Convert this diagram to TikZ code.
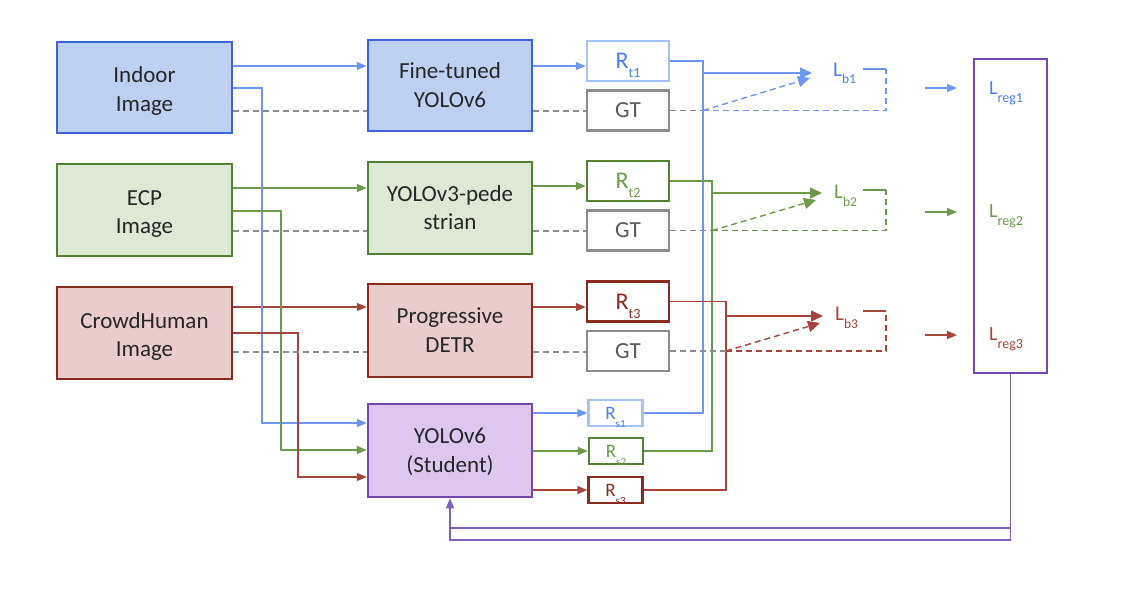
\documentclass[tikz,border=0pt]{standalone}
\usepackage{fontspec}
\setmainfont{Carlito}
\usetikzlibrary{arrows.meta}
\definecolor{bBd}{HTML}{3C64D8}
\definecolor{bFill}{HTML}{BED0F2}
\definecolor{bLn}{HTML}{6E96F0}
\definecolor{bLt}{HTML}{A4C2F4}
\definecolor{bTx}{HTML}{4A7FE8}
\definecolor{gBd}{HTML}{548235}
\definecolor{gFill}{HTML}{DDE8D5}
\definecolor{gLn}{HTML}{6A9A4A}
\definecolor{rBd}{HTML}{8B2A1E}
\definecolor{rFill}{HTML}{E8CDCC}
\definecolor{rLn}{HTML}{A4443A}
\definecolor{pBd}{HTML}{7448B0}
\definecolor{pFill}{HTML}{DCC8EE}
\definecolor{pLn}{HTML}{8060C0}
\definecolor{gry}{HTML}{8C8C8C}
\definecolor{gTx}{HTML}{595959}
% #1 main size, #2 main text, #3 sub size, #4 drop, #5 sub text
\newcommand\mylab[5]{{\fontsize{#1}{#1}\selectfont #2}\smash{\raisebox{#4}{\fontsize{#3}{#3}\selectfont #5}}}
\begin{document}
\begin{tikzpicture}[x=1pt,y=-1pt,font=\fontsize{23}{28.5}\selectfont,
  bigbox/.style={draw,line width=2.5pt,align=center,inner sep=0pt,text=black!85,minimum width=175pt,text height=50pt,text depth=3pt},
  modbox/.style={draw,line width=2.5pt,align=center,inner sep=0pt,text=black!85,minimum width=164pt,text height=46pt,text depth=3pt},
  rbox/.style={draw,line width=2.5pt,inner sep=0pt,minimum width=82pt,minimum height=40pt,fill=white},
  sbox/.style={draw,line width=2.3pt,inner sep=0pt,minimum width=54pt,minimum height=26pt,fill=white},
  ln/.style={line width=1.4pt},
  arr/.style={-{Triangle[length=10pt,width=8pt]}},
  barr/.style={-{Triangle[length=12pt,width=11pt]}},
  dsh/.style={dash pattern=on 6pt off 4pt},
  lab/.style={anchor=base west,inner sep=0pt}]
\useasboundingbox (0,0) rectangle (1148,594);

% input boxes
\node[bigbox,fill=bFill,draw=bBd,minimum height=91pt] (indoor) at (144.5,87.5) {Indoor\\Image};
\node[bigbox,fill=gFill,draw=gBd,minimum height=92pt] (ecp) at (144.5,210) {ECP\\Image};
\node[bigbox,fill=rFill,draw=rBd,minimum height=92pt] (crowd) at (144.5,333) {CrowdHuman\\Image};

% model boxes
\node[modbox,fill=bFill,draw=bBd,minimum height=91pt] (ft) at (450,85.5) {Fine-tuned\\YOLOv6};
\node[modbox,fill=gFill,draw=gBd,minimum height=92pt] (y3) at (450,208) {YOLOv3-pede\\strian};
\node[modbox,fill=rFill,draw=rBd,minimum height=93pt] (pd) at (450,330.5) {Progressive\\DETR};
\node[modbox,fill=pFill,draw=pBd,minimum height=93pt] (stu) at (450,450.5) {YOLOv6\\(Student)};

% teacher result boxes
\node[rbox,draw=bLt,text=bTx] (rt1) at (628,61) {\mylab{24}{R}{14}{-9pt}{t1}};
\node[rbox,draw=gBd,text=gLn] (rt2) at (628,181) {\mylab{24}{R}{14}{-9pt}{t2}};
\node[rbox,draw=rBd,text=rBd] (rt3) at (628,301.5) {\mylab{24}{R}{14}{-9pt}{t3}};
\node[rbox,draw=gry,text=gTx] (gt1) at (628,110.5) {\fontsize{23}{23}\selectfont GT};
\node[rbox,draw=gry,text=gTx] (gt2) at (628,230.5) {\fontsize{23}{23}\selectfont GT};
\node[rbox,draw=gry,text=gTx] (gt3) at (628,351) {\fontsize{23}{23}\selectfont GT};

% student result boxes
\node[sbox,draw=bLt,text=bTx] (rs1) at (615.5,413) {\mylab{19}{R}{11}{-8pt}{s1}};
\node[sbox,draw=gBd,text=gLn] (rs2) at (616,451) {\mylab{19}{R}{11}{-8pt}{s2}};
\node[sbox,draw=rBd,text=rBd] (rs3) at (615.5,490) {\mylab{19}{R}{11}{-8pt}{s3}};

% loss labels
\node[lab,text=bTx] (lb1) at (833,76) {\mylab{21}{L}{13.5}{-8pt}{b1}};
\node[lab,text=gLn] (lb2) at (834,198) {\mylab{21}{L}{13.5}{-8pt}{b2}};
\node[lab,text=rLn] (lb3) at (835,320) {\mylab{21}{L}{13.5}{-8pt}{b3}};

% regression loss box
\node[draw=pBd,line width=2.5pt,inner sep=0pt,minimum width=73pt,minimum height=314pt] (lreg) at (1010.5,216) {};
\node[lab,text=bTx] (lr1) at (989,94) {\mylab{20}{L}{14}{-8pt}{reg1}};
\node[lab,text=gLn] (lr2) at (989,217) {\mylab{20}{L}{14}{-8pt}{reg2}};
\node[lab,text=rLn] (lr3) at (989,340) {\mylab{20}{L}{14}{-8pt}{reg3}};

% coordinates
\coordinate (vb) at (703,0);
\coordinate (vg) at (712,0);
\coordinate (vr) at (726,0);
\coordinate (lbx) at (812,0);
\coordinate (lpx) at (886,0);
\coordinate (lex) at (863,0);

% input -> teachers
\draw[ln,bLn,arr] (indoor.east |- 0,66) -- (ft.west |- 0,66);
\draw[ln,gLn,arr] (ecp.east |- 0,188) -- (y3.west |- 0,188);
\draw[ln,rLn,arr] (crowd.east |- 0,307) -- (pd.west |- 0,307);
% input -> student
\draw[ln,bLn,arr] (indoor.east |- 0,88) -| (262,423) -- (stu.west |- 0,423);
\draw[ln,gLn,arr] (ecp.east |- 0,211) -| (281,450) -- (stu.west |- 0,450);
\draw[ln,rLn,arr] (crowd.east |- 0,333) -| (298,477) -- (stu.west |- 0,477);
% dashed GT
\draw[ln,gry,dsh] (indoor.east |- 0,111) -- (ft.west |- 0,111);
\draw[ln,gry,dsh] (ft.east |- 0,111) -- (gt1.west |- 0,111);
\draw[ln,gry,dsh] (ecp.east |- 0,231) -- (y3.west |- 0,231);
\draw[ln,gry,dsh] (y3.east |- 0,231) -- (gt2.west |- 0,231);
\draw[ln,gry,dsh] (crowd.east |- 0,352) -- (pd.west |- 0,352);
\draw[ln,gry,dsh] (pd.east |- 0,352) -- (gt3.west |- 0,352);

% teachers -> Rt
\draw[ln,bLn,arr] (ft.east |- 0,66) -- (rt1.west |- 0,66);
\draw[ln,gLn,arr] (y3.east |- 0,186) -- (rt2.west |- 0,186);
\draw[ln,rLn,arr] (pd.east |- 0,307) -- (rt3.west |- 0,307);
% student -> Rs
\draw[ln,bLn,arr] (stu.east |- 0,413) -- (rs1.west);
\draw[ln,gLn,arr] (stu.east |- 0,451) -- (rs2.west);
\draw[ln,rLn,arr] (stu.east |- 0,490) -- (rs3.west);

% Rt and Rs merge
\draw[ln,bLn] (rt1.east) -- (vb |- rt1.east) -- (vb |- rs1.east) -- (rs1.east);
\draw[ln,gLn] (rt2.east) -- (vg |- rt2.east) -- (vg |- rs2.east) -- (rs2.east);
\draw[ln,rLn] (rt3.east) -- (vr |- rt3.east) -- (vr |- rs3.east) -- (rs3.east);
\draw[ln,bLn,barr] (vb |- 0,73) -- (lbx |- 0,73);
\draw[ln,gLn,barr] (vg |- 0,193) -- (822,193);
\draw[ln,rLn,barr] (vr |- 0,316) -- (823,316);

% GT -> loss
\draw[ln,gry,dsh] (gt1.east) -- (vb |- gt1.east);
\draw[ln,gry,dsh] (gt2.east) -- (vg |- gt2.east);
\draw[ln,gry,dsh] (gt3.east) -- (vr |- gt3.east);
\draw[ln,bLn,dsh,barr] (vb |- gt1.east) -- (810,78);
\draw[ln,gLn,dsh,barr] (vg |- gt2.east) -- (816,200);
\draw[ln,rLn,dsh,barr] (vr |- gt3.east) -- (820,323);
\draw[ln,bLn,dsh] (vb |- gt1.east) -- (lpx |- gt1.east) -- (lpx |- 0,69);
\draw[ln,gLn,dsh] (vg |- gt2.east) -- (lpx |- gt2.east) -- (lpx |- 0,190);
\draw[ln,rLn,dsh] (vr |- gt3.east) -- (lpx |- gt3.east) -- (lpx |- 0,311);
\draw[ln,bLn] (lpx |- 0,69) -- (lex |- 0,69);
\draw[ln,gLn] (lpx |- 0,190) -- (lex |- 0,190);
\draw[ln,rLn] (lpx |- 0,311) -- (lex |- 0,311);

% loss -> Lreg
\draw[ln,bLn,arr] (925,88) -- (957,88);
\draw[ln,gLn,arr] (925,212) -- (957,212);
\draw[ln,rLn,arr] (925,335) -- (957,335);

% feedback
\draw[ln,pLn,arr] (lreg.south) -- (lreg.south |- 0,540) -- (stu.south |- 0,540) -- (stu.south);
\draw[ln,pLn] (stu.south |- 0,528) -- (lreg.south |- 0,528);
\end{tikzpicture}
\end{document}
